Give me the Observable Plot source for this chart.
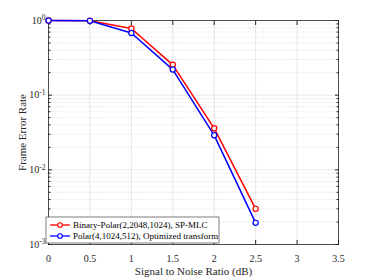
<!DOCTYPE html>
<html><head><meta charset="utf-8">
<script src="https://cdn.jsdelivr.net/npm/d3@7"></script>
<script src="https://cdn.jsdelivr.net/npm/@observablehq/plot@0.6"></script>
<style>body{margin:0;background:#fff} svg text{font-family:"Liberation Serif","Times New Roman",serif !important;}</style>
</head><body><div id="chart"></div>
<script>
const snr = [0, 0.5, 1, 1.5, 2, 2.5];
const ferBinary = [1, 0.995, 0.78, 0.255, 0.036, 0.003];
const ferPolar = [1, 0.99, 0.68, 0.22, 0.029, 0.00195];
const seriesNames = ["Binary-Polar(2,2048,1024), SP-MLC", "Polar(4,1024,512), Optimized transform"];
const seriesColors = ["#ff0000", "#0000ff"];
const xTicks = [0, 0.5, 1, 1.5, 2, 2.5, 3, 3.5];
const yTicks = [1e-3, 1e-2, 1e-1, 1];
const yExponents = ["-3", "-2", "-1", "0"];

const data = [
  ...snr.map((x, i) => ({x, y: ferBinary[i], s: seriesNames[0]})),
  ...snr.map((x, i) => ({x, y: ferPolar[i], s: seriesNames[1]}))
];
const minor = yTicks.slice(0, -1).flatMap(d => d3.range(2, 10).map(k => k * d));
const ink = "#262626";
const serif = "'Liberation Serif', 'Times New Roman', serif";

const plot = Plot.plot({
  width: 374, height: 280,
  marginLeft: 48, marginRight: 36, marginTop: 20, marginBottom: 36,
  style: {fontFamily: serif, fontSize: "10px", background: "white", color: ink},
  x: {domain: [0, 3.5]},
  y: {type: "log", domain: [1e-3, 1]},
  color: {domain: seriesNames, range: seriesColors},
  marks: [
    Plot.gridX(xTicks, {stroke: "#000", strokeOpacity: 0.09}),
    Plot.gridY(minor, {stroke: "#000", strokeOpacity: 0.12, strokeDasharray: "1,1.5"}),
    Plot.gridY(yTicks, {stroke: "#000", strokeOpacity: 0.09}),
    Plot.axisX({ticks: xTicks, tickSize: 0, tickPadding: 10, tickFormat: d => String(d), fontSize: 10,
      label: "Signal to Noise Ratio (dB)", labelAnchor: "center", labelArrow: "none", labelOffset: 30}),
    Plot.axisX({ticks: xTicks, anchor: "bottom", tickSize: -4, tickFormat: () => "", label: null, stroke: ink}),
    Plot.axisX({ticks: xTicks, anchor: "top", tickSize: -4, tickFormat: () => "", label: null, stroke: ink}),
    Plot.axisY({ticks: yTicks, tickSize: 0, tickPadding: 3, tickFormat: d => "E" + yExponents[yTicks.indexOf(d)], fontSize: 10,
      label: "Frame Error Rate", labelAnchor: "center", labelArrow: "none", labelOffset: 30}),
    Plot.axisY({ticks: yTicks, anchor: "left", tickSize: -4, tickFormat: () => "", label: null, stroke: ink}),
    Plot.axisY({ticks: minor, anchor: "left", tickSize: -2.5, tickFormat: () => "", label: null, stroke: ink}),
    Plot.axisY({ticks: yTicks, anchor: "right", tickSize: -4, tickFormat: () => "", label: null, stroke: ink}),
    Plot.axisY({ticks: minor, anchor: "right", tickSize: -2.5, tickFormat: () => "", label: null, stroke: ink}),
    Plot.frame({stroke: ink, strokeWidth: 0.8}),
    Plot.line(data, {x: "x", y: "y", stroke: "s", strokeWidth: 1.5}),
    Plot.dot(data, {x: "x", y: "y", stroke: "s", fill: "white", r: 2.6, strokeWidth: 1.2})
  ]
});

const svg = d3.select(plot).attr("font-family", serif);

// larger axis titles
svg.selectAll("text").each(function() {
  const t = d3.select(this);
  const s = t.text();
  t.attr("font-family", serif);
  if (s === "Signal to Noise Ratio (dB)" || s === "Frame Error Rate") t.attr("font-size", "11px");
});

// superscript exponents on y tick labels
svg.selectAll("text").each(function() {
  const t = d3.select(this);
  const s = t.text();
  if (/^E-?\d$/.test(s)) {
    const e = s.slice(1);
    t.text(null);
    t.append("tspan").text("10");
    t.append("tspan").attr("dy", "-0.45em").attr("font-size", "7.5px").text(e);
  }
});

// legend box inside plot area
const xs = plot.scale("x"), ys = plot.scale("y");
const lx = xs.apply(0) - 2, lb = ys.apply(1e-3) - 1;
const lw = 173, lh = 26;
const g = svg.append("g").attr("font-family", serif).attr("font-size", "9px").attr("text-anchor", "start");
g.append("rect").attr("x", lx).attr("y", lb - lh).attr("width", lw).attr("height", lh)
  .attr("fill", "white").attr("stroke", ink).attr("stroke-width", 0.6);
seriesNames.forEach((name, i) => {
  const cy = lb - lh + 8 + i * 11;
  g.append("line").attr("x1", lx + 4).attr("x2", lx + 24).attr("y1", cy).attr("y2", cy)
    .attr("stroke", seriesColors[i]).attr("stroke-width", 1.3);
  g.append("circle").attr("cx", lx + 14).attr("cy", cy).attr("r", 2.3)
    .attr("fill", "white").attr("stroke", seriesColors[i]).attr("stroke-width", 1.1);
  g.append("text").attr("x", lx + 27).attr("y", cy).attr("dy", "0.35em").attr("fill", "#000").text(name);
});

document.getElementById("chart").appendChild(plot);
</script>
</body></html>
